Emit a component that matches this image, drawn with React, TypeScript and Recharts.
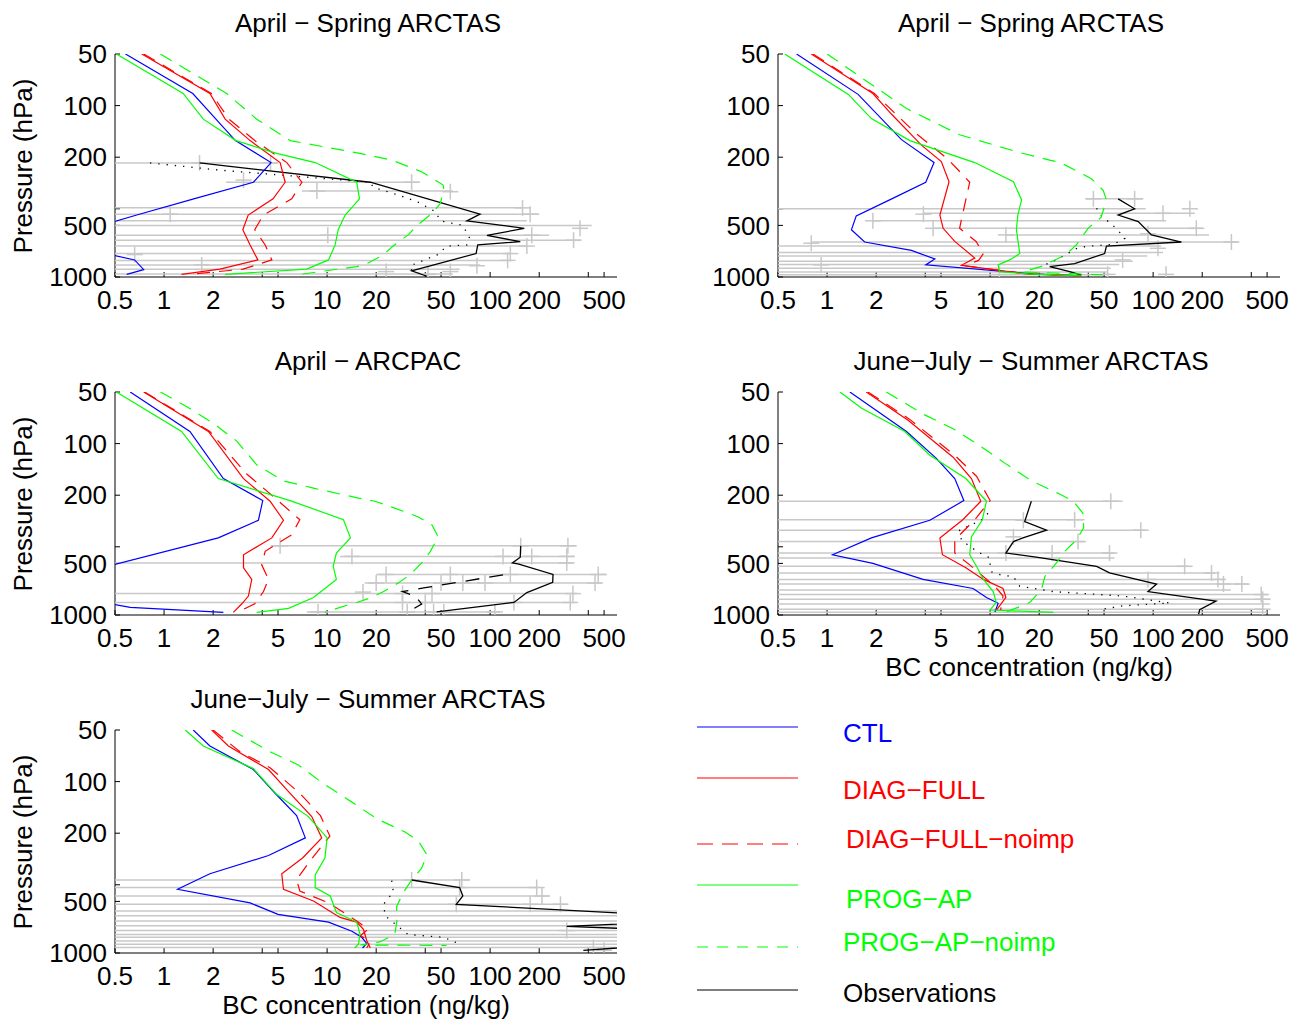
import React from 'react';
import { ScatterChart, Scatter, XAxis, YAxis } from 'recharts';

const FONT = '"Liberation Sans", Arial, Helvetica, sans-serif';
const FS = 26;

const X_TICKS = [0.5, 1, 2, 4, 5, 10, 20, 40, 50, 100, 200, 400, 500];
const X_LABELS = ['0.5', '1', '2', '5', '10', '20', '50', '100', '200', '500'];
const Y_TICKS = [50, 100, 200, 400, 500, 1000];
const Y_LABELS = ['50', '100', '200', '500', '1000'];

// [BC ng/kg, pressure hPa]
const ctl1 = [[0.58, 50], [1.5, 85], [2.08, 120], [2.74, 160], [4.53, 215], [3.53, 280], [1.52, 350], [0.68, 435], [0.33, 530], [0.25, 650], [0.66, 795], [0.75, 905], [0.59, 965]];
const diag1 = [[0.73, 50], [1.91, 85], [2.37, 120], [3.37, 160], [5.15, 215], [5.53, 280], [4.66, 350], [3.28, 435], [3.04, 530], [3.37, 650], [3.76, 795], [2.2, 900], [1.28, 965]];
const diagNo1 = [[0.75, 50], [1.95, 85], [2.5, 120], [3.6, 160], [5.66, 215], [7.0, 280], [6.07, 350], [4.06, 435], [3.6, 530], [4.17, 650], [4.58, 795], [3.05, 900], [1.44, 965]];
const prog1 = [[0.51, 50], [1.31, 85], [1.74, 120], [2.76, 160], [4.9, 190], [8.45, 215], [15.2, 280], [15.8, 350], [12.9, 435], [11.7, 530], [11.2, 650], [10.2, 795], [7.5, 900], [2.37, 965]];
const progNo1 = [[0.95, 50], [2.42, 85], [3.7, 120], [5.93, 160], [15.9, 190], [24.9, 208], [38, 243], [51.5, 291], [52, 312], [49.4, 373], [44, 425], [36, 497], [31.4, 568], [25.4, 660], [22, 747], [17.1, 845], [15.2, 870], [6.8, 965]];
const obs1 = [[1.65, 216], [18.4, 280], [86.7, 430], [72, 470], [162, 520], [95.6, 572], [153, 622], [84, 650], [82, 730], [33, 920], [41, 990]];
const med1 = [[0.82, 216], [2.2, 238], [18.4, 280], [19.2, 300], [26.7, 330], [36, 365], [46, 415], [49.6, 470], [68, 500], [75, 595], [72, 650], [54, 660], [48, 740], [41.6, 780], [32.4, 860], [33, 910], [38, 965]];
const bars1 = [[216, 0.3, 5], [280, 2.4, 37], [315, 7, 59], [395, 0.3, 158], [430, 0.3, 200], [470, 0.3, 168], [500, 0.3, 420], [570, 0.3, 230], [610, 0.3, 360], [660, 0.3, 168], [730, 0.3, 133], [800, 0.3, 128], [850, 0.3, 87], [900, 0.3, 65], [960, 0.3, 59]];
const cross1 = [[1.65, 216], [4.5, 216], [3.07, 272], [33, 280], [8.66, 315], [57, 318], [158, 395], [1.09, 430], [176, 430], [356, 520], [10.1, 570], [180, 570], [325, 610], [168, 660], [133, 730], [0.66, 740], [128, 800], [1.7, 850], [83, 860], [57, 930], [23, 930], [41.6, 965]];

const ctl2 = [[0.65, 50], [1.55, 86], [2.86, 158], [4.53, 215], [4.03, 280], [2.42, 355], [1.51, 440], [1.41, 530], [1.7, 625], [3.29, 700], [4.58, 785], [4.03, 850], [18.4, 960], [36, 985]];
const diag2 = [[0.8, 50], [1.91, 85], [2.48, 112], [3.79, 170], [5.02, 212], [5.6, 278], [4.92, 435], [5.15, 520], [6.07, 620], [8.05, 775], [6.67, 855], [16.6, 960], [36, 985]];
const diagNo2 = [[0.82, 50], [1.95, 85], [3.5, 145], [5.5, 205], [7.5, 280], [6.8, 425], [6.5, 520], [8.2, 620], [9.1, 730], [8.5, 800], [7, 860], [17, 960], [36, 985]];
const prog2 = [[0.55, 50], [1.35, 86], [1.87, 119], [3.22, 160], [8.05, 215], [13.9, 278], [15.6, 355], [14.8, 435], [14.5, 530], [15.2, 730], [13.2, 795], [11.2, 850], [11.4, 930], [17, 960], [36, 985]];
const progNo2 = [[1.0, 50], [3.07, 104], [6.5, 148], [15.2, 188], [23.2, 208], [26.7, 214], [34.6, 243], [41.8, 267], [49.4, 312], [51.7, 355], [48, 448], [39.9, 520], [33.8, 650], [29.2, 740], [21.1, 862], [15.9, 935], [49, 970]];
const obs2 = [[61, 350], [77, 400], [61, 435], [81, 475], [97.7, 568], [149, 625], [51.7, 660], [50.4, 730], [33, 835], [23.2, 870], [30.8, 930], [36.3, 975]];
const med2 = [[45, 397], [48.7, 448], [55, 485], [62, 545], [67, 595], [57, 645], [41, 660], [34.6, 675], [28, 755], [24.4, 810], [21, 860]];
const bars2 = [[350, 38.6, 87], [400, 0.3, 90], [425, 3.9, 180], [470, 1.9, 120], [520, 4.47, 200], [568, 12.5, 220], [625, 0.8, 330], [660, 0.3, 112], [720, 0.3, 115], [755, 0.3, 92], [810, 0.3, 75], [845, 0.3, 62], [890, 0.3, 55], [935, 0.3, 52], [970, 0.3, 50]];
const cross2 = [[43, 350], [77, 350], [168, 400], [115, 425], [3.9, 430], [1.91, 470], [184, 520], [4.47, 520], [93, 560], [12.5, 568], [302, 625], [0.8, 635], [107, 680], [65, 795], [0.92, 850], [52.6, 965], [120, 965], [11.4, 965]];

const ctl3 = [[0.62, 50], [1.44, 85], [2.31, 160], [4.03, 215], [3.79, 280], [2.15, 355], [0.18, 650], [0.3, 795], [0.62, 903], [2.31, 965]];
const diag3 = [[0.75, 50], [1.87, 85], [3.07, 160], [4.47, 217], [5.4, 280], [4.58, 355], [3.07, 445], [3.07, 530], [3.45, 620], [3.29, 775], [3.0, 860], [2.66, 965]];
const diagNo3 = [[0.76, 50], [1.91, 85], [3.2, 150], [4.8, 208], [6.8, 278], [6.07, 340], [4.17, 425], [3.97, 510], [4.37, 620], [4.07, 730], [3.6, 860], [2.8, 965]];
const prog3 = [[0.51, 50], [1.28, 85], [2.15, 160], [5.93, 215], [12.6, 278], [13.9, 355], [11.4, 435], [10.9, 520], [11.4, 620], [8.25, 790], [5.8, 915], [3.7, 965]];
const progNo3 = [[0.95, 50], [1.38, 61], [2.0, 76], [2.8, 97], [3.7, 133], [5.4, 165], [8.25, 182], [15.6, 208], [19.7, 217], [29.3, 248], [36, 267], [44, 298], [48, 350], [43, 425], [38, 497], [32.4, 580], [27.3, 650], [22.2, 730], [18.4, 795], [15.2, 845], [12, 903], [9.7, 965]];
const obs3 = [[154, 395], [153, 460], [137, 497], [150, 505], [243, 580], [242, 645], [168, 740], [140, 845], [47, 960]];
const dash3 = [[120, 583], [40, 693], [29, 730], [35, 780], [38, 862], [31.4, 960]];
const bars3 = [[395, 4.5, 340], [455, 12, 330], [497, 0.3, 320], [580, 20, 520], [650, 17, 480], [750, 0.3, 340], [845, 0.3, 330], [960, 7.5, 115]];
const cross3 = [[5.15, 395], [154, 395], [300, 395], [14.2, 455], [120, 455], [180, 455], [295, 455], [295, 497], [23, 580], [57, 580], [133, 580], [460, 580], [20, 650], [50, 650], [68, 650], [93, 650], [440, 650], [16.6, 735], [29, 750], [44, 750], [322, 750], [29, 845], [40, 845], [140, 845], [310, 845], [8.8, 960], [31, 960], [45, 960], [52, 960], [107, 960]];

const ctl4 = [[1.38, 50], [3.07, 85], [4.68, 122], [6.07, 160], [6.9, 215], [4.27, 280], [1.87, 355], [1.08, 445], [1.91, 500], [3.88, 620], [7.86, 700], [9.5, 790], [11.2, 855], [10.7, 960]];
const diag4 = [[1.74, 50], [3.14, 73], [5.93, 120], [7.68, 160], [8.77, 217], [6.8, 278], [4.92, 355], [5.1, 445], [7.1, 530], [9.1, 620], [12, 700], [12.5, 790], [10.9, 940]];
const diagNo4 = [[1.78, 50], [3.2, 72], [6.07, 117], [8.25, 155], [10, 215], [8.05, 278], [6.07, 365], [6.07, 435], [7.5, 510], [10.7, 680], [12, 775], [11.6, 940]];
const prog4 = [[1.2, 50], [1.62, 62], [3.0, 85], [4.27, 117], [7.1, 160], [9.5, 217], [8.96, 278], [7.68, 350], [7.5, 445], [8.25, 520], [9.1, 620], [10.45, 730], [10.9, 845], [10, 935], [24.4, 965]];
const progNo4 = [[2.31, 50], [3.97, 68], [5.93, 82], [8.66, 103], [12.3, 130], [17.9, 165], [26.7, 197], [32.4, 217], [37.1, 255], [37.5, 310], [33.8, 365], [28.7, 425], [25.5, 497], [21.7, 595], [20.6, 715], [17.5, 845], [14.8, 903], [12.5, 960]];
const obs4 = [[17.9, 217], [16.3, 285], [22.2, 320], [15.9, 355], [13.9, 373], [12.5, 435], [19.2, 460], [45, 520], [54, 568], [105, 660], [93, 730], [243, 830], [193, 930], [190, 990]];
const med4 = [[9.7, 255], [8.85, 280], [6.5, 320], [6.67, 365], [7.5, 398], [8.66, 435], [10, 465], [10, 505], [10.2, 560], [11.7, 585], [13.9, 597], [15.2, 680], [24.4, 730], [65, 775], [126, 850], [65, 885], [47, 930]];
const bars4 = [[217, 0.3, 65], [278, 0.3, 38], [320, 0.3, 90], [373, 0.3, 38], [435, 0.3, 58], [465, 0.3, 58], [520, 0.3, 165], [568, 0.3, 240], [620, 0.3, 270], [660, 0.3, 380], [715, 0.3, 300], [760, 0.3, 500], [810, 0.3, 520], [862, 0.3, 520], [925, 0.3, 480], [965, 0.3, 500]];
const cross4 = [[55, 217], [16, 280], [33, 278], [84, 320], [13.9, 350], [34.6, 373], [12.5, 435], [24, 435], [54, 435], [156, 520], [228, 568], [93, 620], [250, 620], [270, 660], [350, 660], [460, 760], [470, 810], [470, 925]];

const ctl5 = [[1.51, 50], [1.91, 62], [3.53, 85], [4.8, 117], [6.5, 158], [7.35, 213], [4.37, 270], [1.91, 345], [1.21, 425], [3.37, 510], [5.0, 595], [10.2, 660], [14.2, 747], [16.3, 810], [17.5, 880], [16.5, 935]];
const diag5 = [[1.96, 50], [2.48, 62], [4.37, 85], [5.93, 117], [8.05, 160], [9.27, 213], [7.1, 278], [5.27, 345], [5.4, 425], [8.25, 497], [12, 620], [15.2, 660], [16.7, 727], [17.5, 845], [18.4, 935]];
const diagNo5 = [[2.0, 50], [2.92, 67], [4.47, 83], [6.8, 117], [9.1, 158], [10.4, 208], [7.86, 290], [6.5, 373], [6.8, 435], [10.2, 510], [15.2, 650], [17.9, 727], [16, 790], [18.4, 860], [17.5, 935]];
const prog5 = [[1.35, 50], [1.74, 62], [3.53, 84], [4.92, 119], [7.68, 160], [10, 213], [9.7, 278], [8.45, 350], [8.45, 415], [10.45, 465], [11.4, 580], [15.2, 660], [15.9, 775], [15.6, 885], [14.8, 935]];
const progNo5 = [[2.6, 50], [4.47, 67], [6.67, 80], [9.5, 103], [13.9, 130], [20.2, 165], [30.1, 197], [36.3, 222], [41, 268], [38, 320], [33, 375], [29.3, 445], [26.7, 535], [26.8, 650], [26, 780], [21, 862], [16, 898], [54, 903]];
const obs5 = [[33, 375], [65, 415], [68, 465], [62, 520], [1500, 610], [1500, 650], [295, 700], [1500, 740], [1500, 880], [373, 965]];
const med5 = [[24.9, 378], [25.5, 440], [22.2, 520], [22.7, 607], [31.4, 780], [51.7, 810], [61, 862], [62, 915]];
const bars5 = [[375, 0.3, 75], [415, 0.3, 200], [465, 0.3, 230], [520, 0.3, 300], [568, 0.3, 1000], [607, 0.3, 1000], [650, 0.3, 1000], [693, 0.3, 1000], [740, 0.3, 1000], [780, 0.3, 1000], [810, 0.3, 1000], [850, 0.3, 1000], [890, 0.3, 1000], [930, 0.3, 1000]];
const cross5 = [[33, 375], [67, 375], [65, 415], [193, 415], [208, 465], [62, 520], [176, 520], [270, 520], [295, 740], [430, 930], [500, 965]];

const BLUE = '#0000ff';
const RED = '#ff0000';
const GREEN = '#00ff00';
const GREY = '#c8c8c8';

const pts = (a) => a.map(([x, p]) => ({ x, p }));
const Nothing = () => <g />;

const Plus = (props) => {
  const { cx, cy } = props;
  return (
    <g stroke={GREY} strokeWidth={1.5}>
      <line x1={cx - 8} y1={cy} x2={cx + 8} y2={cy} />
      <line x1={cx} y1={cy - 8} x2={cx} y2={cy + 8} />
    </g>
  );
};

const tickStyle = { fill: '#000', fontSize: FS, fontFamily: FONT };

function Panel({ left, top, d }) {
  const lines = [
    { data: d.med, color: '#000', w: 1.3, dash: '1.3 7' },
    { data: d.obs, color: '#000', w: 1.3 },
    { data: d.dash, color: '#000', w: 1.3, dash: '14 10' },
    { data: d.ctl, color: BLUE, w: 1.2 },
    { data: d.diag, color: RED, w: 1.2 },
    { data: d.diagNo, color: RED, w: 1.2, dash: '13 9' },
    { data: d.prog, color: GREEN, w: 1.2 },
    { data: d.progNo, color: GREEN, w: 1.2, dash: '13 9' },
  ].filter((l) => l.data);
  return (
    <div style={{ position: 'absolute', left, top }}>
      <ScatterChart width={640} height={320} margin={{ top: 54, right: 23, bottom: 0, left: 0 }}>
        <XAxis xAxisId="b" type="number" dataKey="x" scale="log" domain={[0.5, 600]} allowDataOverflow
          ticks={X_TICKS} interval={0} tickFormatter={(v) => (X_LABELS.includes(String(v)) ? String(v) : '')}
          tickSize={-5} tickMargin={19} height={43} tick={tickStyle} stroke="#000" />
        <XAxis xAxisId="t" orientation="top" type="number" scale="log" domain={[0.5, 600]} allowDataOverflow
          ticks={X_TICKS} interval={0} tick={false} tickSize={-5} height={0} stroke="#000" />
        <YAxis yAxisId="l" type="number" dataKey="p" scale="log" domain={[50, 1000]} reversed allowDataOverflow
          ticks={Y_TICKS} interval={0} tickFormatter={(v) => (Y_LABELS.includes(String(v)) ? String(v) : '')}
          tickSize={-5} tickMargin={13} width={115} tick={tickStyle} stroke="#000" />
        <YAxis yAxisId="r" orientation="right" type="number" scale="log" domain={[50, 1000]} reversed allowDataOverflow
          ticks={Y_TICKS} interval={0} tick={false} tickSize={-5} width={0} stroke="#000" />
        {d.bars.map(([p, lo, hi], i) => (
          <Scatter key={'b' + i} xAxisId="b" yAxisId="l" data={[{ x: lo, p }, { x: hi, p }]}
            line={{ stroke: GREY, strokeWidth: 1.5 }} shape={Nothing} fill={GREY}
            isAnimationActive={false} legendType="none" />
        ))}
        <Scatter xAxisId="b" yAxisId="l" data={pts(d.cross)} shape={Plus} fill={GREY}
          isAnimationActive={false} legendType="none" />
        {lines.map((l, i) => (
          <Scatter key={'l' + i} xAxisId="b" yAxisId="l" data={pts(l.data)}
            line={{ stroke: l.color, strokeWidth: l.w, strokeDasharray: l.dash }} shape={Nothing} fill={l.color}
            isAnimationActive={false} legendType="none" />
        ))}
      </ScatterChart>
    </div>
  );
}

const PANELS = [
  { left: 0, top: 0, title: 'April − Spring ARCTAS', ylab: true, d: { ctl: ctl1, diag: diag1, diagNo: diagNo1, prog: prog1, progNo: progNo1, obs: obs1, med: med1, bars: bars1, cross: cross1 } },
  { left: 663, top: 0, title: 'April − Spring ARCTAS', d: { ctl: ctl2, diag: diag2, diagNo: diagNo2, prog: prog2, progNo: progNo2, obs: obs2, med: med2, bars: bars2, cross: cross2 } },
  { left: 0, top: 338, title: 'April − ARCPAC', ylab: true, d: { ctl: ctl3, diag: diag3, diagNo: diagNo3, prog: prog3, progNo: progNo3, obs: obs3, dash: dash3, bars: bars3, cross: cross3 } },
  { left: 663, top: 338, title: 'June−July − Summer ARCTAS', xlab: true, d: { ctl: ctl4, diag: diag4, diagNo: diagNo4, prog: prog4, progNo: progNo4, obs: obs4, med: med4, bars: bars4, cross: cross4 } },
  { left: 0, top: 676, title: 'June−July − Summer ARCTAS', ylab: true, xlab: true, d: { ctl: ctl5, diag: diag5, diagNo: diagNo5, prog: prog5, progNo: progNo5, obs: obs5, med: med5, bars: bars5, cross: cross5 } },
];

const LEGEND = [
  { name: 'CTL', color: BLUE, ly: 727, tx: 843, ty: 742 },
  { name: 'DIAG−FULL', color: RED, ly: 778, tx: 843, ty: 799 },
  { name: 'DIAG−FULL−noimp', color: RED, dash: '16 9', ly: 844, tx: 846, ty: 848 },
  { name: 'PROG−AP', color: GREEN, ly: 885, tx: 846, ty: 908 },
  { name: 'PROG−AP−noimp', color: GREEN, dash: '11 9', ly: 947, tx: 843, ty: 951 },
  { name: 'Observations', color: '#000', ly: 990, tx: 843, ty: 1002 },
];

export default function App() {
  return (
    <div style={{ position: 'absolute', left: 0, top: 0, width: 1290, height: 1019, background: '#fff', fontFamily: FONT }}>
      {PANELS.map((p, i) => (
        <Panel key={i} left={p.left} top={p.top} d={p.d} />
      ))}
      <svg width={1290} height={1019} style={{ position: 'absolute', left: 0, top: 0, pointerEvents: 'none' }}
        fontFamily={FONT} fontSize={FS}>
        {PANELS.map((p, i) => (
          <g key={i}>
            <text x={p.left + 368} y={p.top + 32} textAnchor="middle" fill="#000">{p.title}</text>
            {p.ylab && (
              <text transform={`translate(${p.left + 32},${p.top + 166}) rotate(-90)`} textAnchor="middle" fill="#000">
                Pressure (hPa)
              </text>
            )}
            {p.xlab && (
              <text x={p.left + 366} y={p.top + 338} textAnchor="middle" fill="#000">BC concentration (ng/kg)</text>
            )}
          </g>
        ))}
        {LEGEND.map((l) => (
          <g key={l.name}>
            <line x1={697} x2={798} y1={l.ly} y2={l.ly} stroke={l.color} strokeWidth={1.2} strokeDasharray={l.dash} />
            <text x={l.tx} y={l.ty} fill={l.color}>{l.name}</text>
          </g>
        ))}
      </svg>
    </div>
  );
}
